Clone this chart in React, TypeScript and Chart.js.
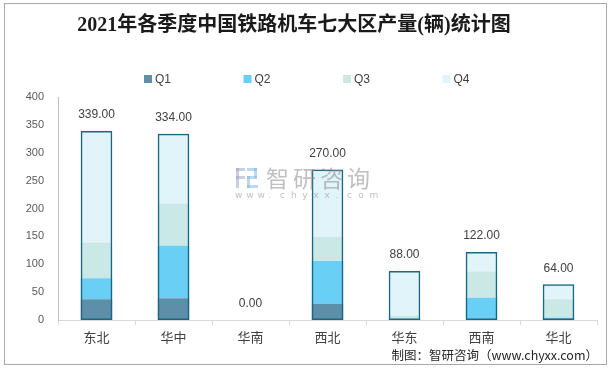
import React, { useEffect, useRef } from "react";
import { Chart, registerables } from "chart.js";

Chart.register(...registerables);

const categories = ["东北", "华中", "华南", "西北", "华东", "西南", "华北"];
const q1 = [37, 39, 0, 29, 1, 0, 1];
const q2 = [38, 94, 0, 77, 1, 40, 3];
const q3 = [64, 76, 0, 43, 6, 47, 33];
const q4 = [200, 125, 0, 121, 80, 35, 27];
const totals = [339, 334, 0, 270, 88, 122, 64];
const seriesNames = ["Q1", "Q2", "Q3", "Q4"];
const seriesColors = ["#5E8FA8", "#6ACFF5", "#C9E8E6", "#E0F4FA"];
const titleText = "2021年各季度中国铁路机车七大区产量(辆)统计图";
const sourceText = "制图：智研咨询（www.chyxx.com）";

const decorPlugin = {
  id: "decor",
  afterDraw(chart: any) {
    const ctx = chart.ctx;
    ctx.save();
    // frame
    ctx.strokeStyle = "#A9A9A9";
    ctx.lineWidth = 1;
    ctx.strokeRect(4.5, 3.5, 602, 361);
    // title
    ctx.fillStyle = "#1a1a1a";
    ctx.font = "bold 20px 'Liberation Serif', 'Noto Sans CJK SC', serif";
    ctx.textAlign = "center";
    ctx.textBaseline = "middle";
    ctx.fillText(titleText, 294, 26);
    // legend
    ctx.font = "12px 'Liberation Sans', 'Noto Sans', sans-serif";
    ctx.textAlign = "left";
    for (let i = 0; i < seriesNames.length; i++) {
      const x = 144 + i * 99.5;
      ctx.fillStyle = seriesColors[i];
      ctx.fillRect(x, 75, 8, 8);
      ctx.fillStyle = "#404040";
      ctx.fillText(seriesNames[i], x + 11, 79.5);
    }
    // total labels
    const meta = chart.getDatasetMeta(4);
    ctx.font = "12px 'Liberation Sans', 'Noto Sans', sans-serif";
    ctx.textAlign = "center";
    ctx.fillStyle = "#404040";
    meta.data.forEach((el: any, i: number) => {
      ctx.fillText(totals[i].toFixed(2), el.x, el.y - 16);
    });
    // watermark
    ctx.fillStyle = "rgba(140,140,140,0.55)";
    ctx.font = "23px 'Noto Sans CJK SC', sans-serif";
    ctx.textAlign = "left";
    const wmCn = "智研咨询";
    for (let i = 0; i < wmCn.length; i++) {
      ctx.fillText(wmCn[i], 266 + i * 27, 178);
    }
    ctx.font = "9px 'DejaVu Sans', sans-serif";
    const wm = "www.chyxx.com";
    for (let i = 0; i < wm.length; i++) {
      ctx.fillText(wm[i], 235 + i * 11.2, 196);
    }
    // logo
    ctx.fillStyle = "rgba(150,160,190,0.5)";
    ctx.fillRect(236, 168, 9, 3);
    ctx.fillRect(236, 168, 3, 20);
    ctx.fillRect(236, 176, 9, 3);
    ctx.fillStyle = "rgba(120,180,225,0.5)";
    ctx.fillRect(247, 168, 10, 3);
    ctx.fillRect(254, 168, 3, 10);
    ctx.fillRect(247, 176, 10, 3);
    ctx.fillRect(247, 176, 3, 12);
    ctx.fillRect(247, 185, 11, 3);
    // source
    ctx.fillStyle = "#262626";
    ctx.font = "12.5px 'Noto Sans CJK SC', sans-serif";
    ctx.textAlign = "right";
    ctx.fillText(sourceText, 598, 355);
    ctx.restore();
  },
};

export default function App() {
  const ref = useRef<HTMLCanvasElement>(null);
  useEffect(() => {
    if (!ref.current) return;
    const series = [q1, q2, q3, q4];
    const datasets: any[] = series.map((d, i) => ({
      label: seriesNames[i],
      data: d,
      backgroundColor: seriesColors[i],
      borderWidth: 0,
      stack: "q",
      barPercentage: 0.41,
      categoryPercentage: 1,
    }));
    datasets.push({
      label: "total",
      data: totals,
      backgroundColor: "rgba(0,0,0,0)",
      borderColor: "#1E6584",
      borderWidth: (c: any) => (totals[c.dataIndex] ? 1.5 : 0),
      borderSkipped: false,
      stack: "total",
      grouped: false,
      order: -1,
      barPercentage: 0.41,
      categoryPercentage: 1,
    });
    const chart = new Chart(ref.current, {
      type: "bar",
      data: { labels: categories, datasets },
      options: {
        animation: false,
        responsive: false,
        layout: { padding: { top: 97, right: 14, left: 0, bottom: 0 } },
        plugins: { legend: { display: false }, title: { display: false }, tooltip: { enabled: false } },
        scales: {
          x: {
            stacked: true,
            afterFit: (s: any) => { s.height = 48; },
            grid: { display: true, drawOnChartArea: false, drawTicks: true, tickLength: 5, color: "#D9D9D9", offset: true },
            border: { display: true, color: "#D9D9D9" },
            ticks: { color: "#404040", padding: 4, font: { size: 13, family: "'Noto Sans CJK SC', sans-serif" } },
          },
          y: {
            stacked: true,
            min: 0,
            max: 400,
            afterFit: (s: any) => { s.width = 58; },
            grid: { display: false, drawTicks: false },
            border: { display: true, color: "#BFBFBF" },
            ticks: { stepSize: 50, color: "#595959", padding: 14, font: { size: 11, family: "'Liberation Sans', sans-serif" } },
          },
        },
      },
      plugins: [decorPlugin],
    });
    return () => chart.destroy();
  }, []);
  return (
    <div style={{ position: "fixed", left: 0, top: 0, width: 611, height: 368, background: "#fff" }}>
      <canvas ref={ref} width={611} height={368} style={{ width: 611, height: 368 }} />
    </div>
  );
}
